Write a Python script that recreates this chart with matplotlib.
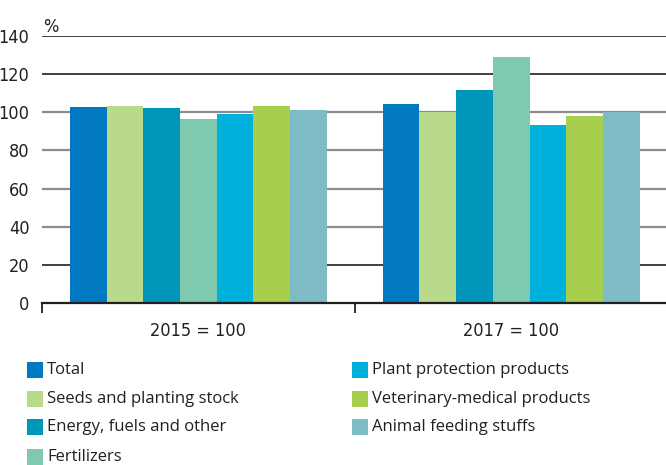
import matplotlib
matplotlib.use("Agg")
import matplotlib.pyplot as plt
from matplotlib.patches import Rectangle
from matplotlib import font_manager as fm

# ---- data ----
groups = ["2015 = 100", "2017 = 100"]
series = ["Total", "Seeds and planting stock", "Energy, fuels and other",
          "Fertilizers", "Plant protection products",
          "Veterinary-medical products", "Animal feeding stuffs"]
values_2015 = [102.8, 103.3, 102.3, 96.5, 99.1, 103.3, 101.2]
values_2017 = [104.4, 100.3, 111.7, 129.0, 93.4, 98.1, 100.2]
colors = ["#0079c1", "#b9d98c", "#0096b9", "#7fcaae", "#00b1de", "#a7ce4c", "#7dbbc5"]
yticks = [0, 20, 40, 60, 80, 100, 120, 140]

W, H = 666, 465
fig = plt.figure(figsize=(W / 100, H / 100), dpi=100)
ax = fig.add_axes([42 / W, 1 - 303 / H, 1 - 42 / W, (303 - 36) / H])

# condensed font if available
cond_path = None
for f in fm.findSystemFonts():
    low = f.lower()
    if ("condensed" in low or "narrow" in low) and "bold" not in low and "oblique" not in low and "italic" not in low:
        if cond_path is None or "dejavusanscondensed.ttf" in low:
            cond_path = f
if cond_path:
    condfp = fm.FontProperties(fname=cond_path, size=13)
else:
    condfp = fm.FontProperties(family="DejaVu Sans", size=11)

txtfont = ["Open Sans", "DejaVu Sans"]
txtcolor = "#231f20"

bw = 0.1174
n = len(series)
data = [values_2015, values_2017]
for gi, vals in enumerate(data):
    for si, v in enumerate(vals):
        x = gi + (si - (n - 1) / 2) * bw
        ax.bar(x, v, width=bw, color=colors[si], edgecolor="none", zorder=2)

ax.set_xlim(-0.5, 1.495)
ax.set_ylim(0, 140)
ax.set_yticks(yticks)
ax.set_yticklabels([str(t) for t in yticks], fontproperties=condfp, color=txtcolor)
ax.tick_params(axis="y", length=0, pad=9)

# gridlines
for t in yticks[1:]:
    if t in (20, 120, 140):
        c, lw = "#231f20", 1.2
    else:
        c, lw = "#8c8c8c", 1.6
    ax.axhline(t, color=c, lw=lw, zorder=1)

ax.set_xticks([-0.5, 0.5])
ax.set_xticklabels(["", ""])
ax.tick_params(axis="x", direction="out", length=7, width=1.3, color="#231f20")
for gi, g in enumerate(groups):
    ax.text(gi, -14.5, g, ha="center", va="center", fontproperties=condfp,
            color=txtcolor)

for s in ["top", "right", "left"]:
    ax.spines[s].set_visible(False)
ax.spines["bottom"].set_color("#231f20")
ax.spines["bottom"].set_linewidth(1.6)
ax.spines["bottom"].set_zorder(3)

fig.text(43 / W, 1 - 27 / H, "%", ha="left", va="center", fontproperties=condfp,
         color=txtcolor)

# legend (manual)
col_x = [27, 352]
row_y = [370, 399, 427, 457]
for i, (name, col) in enumerate(zip(series, colors)):
    c = 0 if i < 4 else 1
    r = i if i < 4 else i - 4
    x0 = col_x[c]
    yc = row_y[r]
    fig.patches.append(Rectangle((x0 / W, 1 - (yc + 8) / H), 16 / W, 16 / H,
                                 transform=fig.transFigure, facecolor=col,
                                 edgecolor="none"))
    fig.text((x0 + 20) / W, 1 - yc / H, name, ha="left", va="center",
             fontfamily=txtfont, fontsize=12, color=txtcolor)

fig.savefig("out.png", dpi=100)
